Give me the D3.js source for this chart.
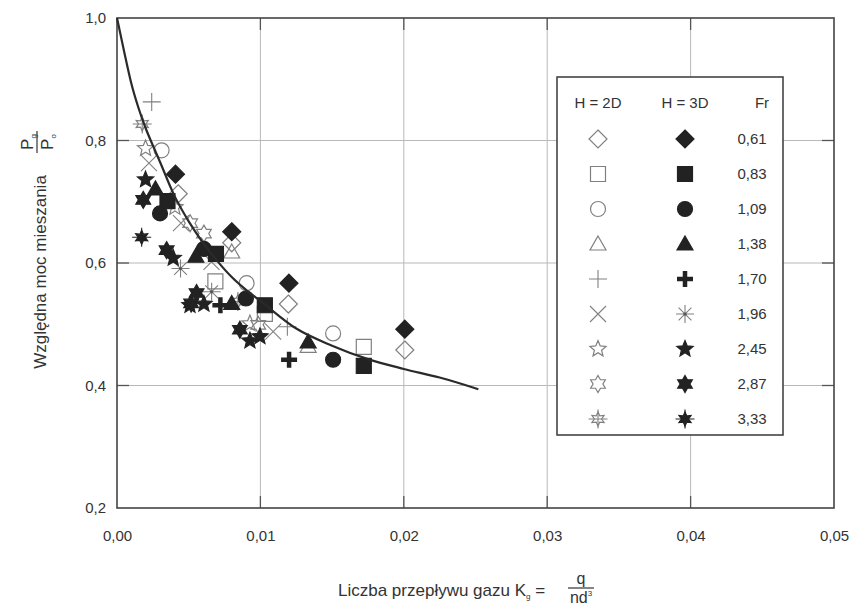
<!DOCTYPE html>
<html><head><meta charset="utf-8">
<script src="https://cdn.jsdelivr.net/npm/d3@7"></script>
<style>body{margin:0;background:#fff}svg{display:block}text{font-family:"Liberation Sans",Arial,sans-serif;fill:#333}</style>
</head><body>
<script>
// ---- data ----
const xTicks = [0, 0.01, 0.02, 0.03, 0.04, 0.05];
const yTicks = [0.2, 0.4, 0.6, 0.8, 1.0];
const frLabels = ["0,61","0,83","1,09","1,38","1,70","1,96","2,45","2,87","3,33"];
const symbolKinds = ["diamond","square","circle","triangle","plus","cross","star5","star6","starx"];

// fitted curve
const curveX = [0, 0.0005, 0.001, 0.0015, 0.002, 0.0025, 0.003, 0.004, 0.005, 0.006, 0.007, 0.008, 0.009, 0.010, 0.0125, 0.015, 0.0175, 0.020, 0.0225, 0.0252];
const curveY = [1.0, 0.945, 0.893, 0.853, 0.820, 0.792, 0.765, 0.710, 0.668, 0.633, 0.603, 0.577, 0.556, 0.538, 0.493, 0.465, 0.443, 0.427, 0.413, 0.394];

// H = 2D (open symbols)
const fr061_2D = [[0.00427,0.713],[0.0080,0.633],[0.01195,0.533],[0.02007,0.458]];
const fr083_2D = [[0.00686,0.570],[0.01031,0.517],[0.01721,0.463]];
const fr109_2D = [[0.00311,0.784],[0.00904,0.567],[0.01507,0.485]];
const fr138_2D = [[0.0080,0.618],[0.01333,0.464]];
const fr170_2D = [[0.00242,0.863],[0.01188,0.496]];
const fr196_2D = [[0.00223,0.763],[0.00446,0.665],[0.00659,0.602],[0.01089,0.488]];
const fr245_2D = [[0.00199,0.787],[0.00404,0.691],[0.00927,0.501]];
const fr287_2D = [[0.00510,0.665],[0.00606,0.648],[0.00985,0.499]];
const fr333_2D = [[0.00176,0.827],[0.00843,0.537]];
// H = 3D (filled symbols)
const fr061_3D = [[0.00408,0.745],[0.0080,0.651],[0.01199,0.567],[0.02007,0.492]];
const fr083_3D = [[0.00352,0.701],[0.0069,0.615],[0.01031,0.531],[0.01721,0.432]];
const fr109_3D = [[0.0030,0.681],[0.00606,0.623],[0.00899,0.542],[0.01507,0.442]];
const fr138_3D = [[0.00268,0.721],[0.0055,0.611],[0.0080,0.534],[0.01333,0.471]];
const fr170_3D = [[0.00721,0.531],[0.0120,0.442]];
const fr196_3D = [[0.00443,0.591],[0.0066,0.553]];
const fr245_3D = [[0.00199,0.736],[0.00392,0.608],[0.00509,0.531],[0.00606,0.533],[0.00927,0.473],[0.00997,0.480]];
const fr287_3D = [[0.00183,0.703],[0.00346,0.621],[0.00555,0.551],[0.00517,0.534],[0.00857,0.491]];
const fr333_3D = [[0.00172,0.642]];

const open2D = [fr061_2D,fr083_2D,fr109_2D,fr138_2D,fr170_2D,fr196_2D,fr245_2D,fr287_2D,fr333_2D];
const filled3D = [fr061_3D,fr083_3D,fr109_3D,fr138_3D,fr170_3D,fr196_3D,fr245_3D,fr287_3D,fr333_3D];

// ---- drawing ----
const W = 855, H = 610;
const svg = d3.select("body").append("svg").attr("width", W).attr("height", H);
svg.append("rect").attr("width", W).attr("height", H).attr("fill", "#fff");

const x = d3.scaleLinear().domain([0, 0.05]).range([117, 834]);
const y = d3.scaleLinear().domain([0.2, 1.0]).range([508, 18]);
const fmt = d => d3.format(".2f")(d).replace(".", ",");
const fmtY = d => d3.format(".1f")(d).replace(".", ",");

// grid
const grid = svg.append("g").attr("stroke", "#b8b8b8").attr("stroke-width", 1);
grid.selectAll("line.v").data(xTicks.slice(1, -1)).join("line").attr("class","v")
  .attr("x1", d => x(d)).attr("x2", d => x(d)).attr("y1", y(1)).attr("y2", y(0.2));
grid.selectAll("line.h").data(yTicks.slice(1, -1)).join("line").attr("class","h")
  .attr("x1", x(0)).attr("x2", x(0.05)).attr("y1", d => y(d)).attr("y2", d => y(d));

// dark inner ticks
const tk = svg.append("g").attr("stroke", "#555").attr("stroke-width", 1.3);
xTicks.slice(1, -1).forEach(d => {
  tk.append("line").attr("x1", x(d)).attr("x2", x(d)).attr("y1", y(1)).attr("y2", y(1) + 12);
  tk.append("line").attr("x1", x(d)).attr("x2", x(d)).attr("y1", y(0.2)).attr("y2", y(0.2) - 12);
});
yTicks.slice(1, -1).forEach(d => {
  tk.append("line").attr("x1", x(0)).attr("x2", x(0) + 12).attr("y1", y(d)).attr("y2", y(d));
  tk.append("line").attr("x1", x(0.05)).attr("x2", x(0.05) - 12).attr("y1", y(d)).attr("y2", y(d));
});

// frame
svg.append("rect").attr("x", x(0)).attr("y", y(1)).attr("width", x(0.05) - x(0)).attr("height", y(0.2) - y(1))
  .attr("fill", "none").attr("stroke", "#444").attr("stroke-width", 1.6);

// axes labels via d3 axes
const xAxis = svg.append("g").attr("transform", `translate(0,${y(0.2)})`)
  .call(d3.axisBottom(x).tickValues(xTicks).tickSize(0).tickPadding(22).tickFormat(fmt));
xAxis.select(".domain").remove();
xAxis.selectAll("text").attr("font-size", 15).attr("font-family", "Liberation Sans, Arial").attr("fill", "#333");

const yAxis = svg.append("g").attr("transform", `translate(${x(0)},0)`)
  .call(d3.axisLeft(y).tickValues(yTicks).tickSize(0).tickPadding(11).tickFormat(fmtY));
yAxis.select(".domain").remove();
yAxis.selectAll("text").attr("font-size", 15).attr("font-family", "Liberation Sans, Arial").attr("fill", "#333");

// symbols
function starPath(n, R, r) {
  let p = "";
  for (let i = 0; i < 2 * n; i++) {
    const a = -Math.PI / 2 + i * Math.PI / n;
    const rr = i % 2 === 0 ? R : r;
    p += (i === 0 ? "M" : "L") + (rr * Math.cos(a)).toFixed(2) + "," + (rr * Math.sin(a)).toFixed(2);
  }
  return p + "Z";
}
function drawSymbol(g, kind, filled) {
  const dark = "#222", grey = "#808080";
  const fillC = filled ? dark : "none";
  const strokeC = filled ? dark : grey;
  const sw = 1.2;
  const shape = d => g.append("path").attr("d", d).attr("fill", fillC).attr("stroke", strokeC).attr("stroke-width", sw);
  switch (kind) {
    case "diamond": shape("M0,-9L9,0L0,9L-9,0Z"); break;
    case "square": shape("M-7.5,-7.5H7.5V7.5H-7.5Z"); break;
    case "circle": g.append("circle").attr("r", 7.5).attr("fill", fillC).attr("stroke", strokeC).attr("stroke-width", sw); break;
    case "triangle": shape("M0,-8L8,6L-8,6Z"); break;
    case "plus":
      if (filled) g.append("path").attr("d", "M-8,0H8M0,-8V8").attr("stroke", dark).attr("stroke-width", 4.5);
      else g.append("path").attr("d", "M-9,0H9M0,-9V9").attr("stroke", grey).attr("stroke-width", 1.1);
      break;
    case "cross":
      if (filled) {
        g.append("path").attr("d", "M-9,0H9M0,-9V9M-6.4,-6.4L6.4,6.4M-6.4,6.4L6.4,-6.4").attr("stroke", grey).attr("stroke-width", 1.1);
        g.append("circle").attr("r", 1.6).attr("fill", "#555");
      } else g.append("path").attr("d", "M-8,-8L8,8M-8,8L8,-8").attr("stroke", grey).attr("stroke-width", 1.1);
      break;
    case "star5": shape(starPath(5, 8.5, 3.8)); break;
    case "star6": shape(starPath(6, 8.5, 4.9)); break;
    case "starx":
      g.append("path").attr("d", "M-9.5,0H9.5M0,-9.5V9.5").attr("stroke", strokeC).attr("stroke-width", 1.1);
      shape(starPath(6, 7, 3.6));
      break;
  }
}

// curve
const line = d3.line().x(d => x(d[0])).y(d => y(d[1])).curve(d3.curveMonotoneX);
const curvePts = curveX.map((v, i) => [v, curveY[i]]);

// points
const pts = svg.append("g");
open2D.forEach((arr, i) => arr.forEach(p => drawSymbol(pts.append("g").attr("transform", `translate(${x(p[0])},${y(p[1])})`), symbolKinds[i], false)));
filled3D.forEach((arr, i) => arr.forEach(p => drawSymbol(pts.append("g").attr("transform", `translate(${x(p[0])},${y(p[1])})`), symbolKinds[i], true)));

svg.append("path").datum(curvePts).attr("d", line).attr("fill", "none").attr("stroke", "#2a2a2a").attr("stroke-width", 2.2);

// legend
const lg = svg.append("g");
lg.append("rect").attr("x", 557).attr("y", 77).attr("width", 226).attr("height", 358)
  .attr("fill", "#fff").attr("stroke", "#444").attr("stroke-width", 1.6);
lg.append("text").attr("x", 598).attr("y", 108).attr("text-anchor", "middle").attr("font-size", 15).text("H = 2D");
lg.append("text").attr("x", 685).attr("y", 108).attr("text-anchor", "middle").attr("font-size", 15).text("H = 3D");
lg.append("text").attr("x", 762).attr("y", 108).attr("text-anchor", "middle").attr("font-size", 15).text("Fr");
frLabels.forEach((lab, i) => {
  const yy = 139 + i * 35;
  drawSymbol(lg.append("g").attr("transform", `translate(598,${yy})`), symbolKinds[i], false);
  drawSymbol(lg.append("g").attr("transform", `translate(685,${yy})`), symbolKinds[i], true);
  lg.append("text").attr("x", 752).attr("y", yy + 5).attr("text-anchor", "middle").attr("font-size", 15).text(lab);
});

// y title
svg.append("text").attr("transform", "translate(46,272) rotate(-90)").attr("text-anchor", "middle")
  .attr("font-size", 17).text("Względna moc mieszania");
const fr = svg.append("g").attr("transform", "translate(37,142) rotate(-90)");
fr.append("line").attr("x1", -11).attr("x2", 11).attr("y1", 0).attr("y2", 0).attr("stroke", "#333").attr("stroke-width", 1.2);
const num = fr.append("text").attr("x", 0).attr("y", -4).attr("text-anchor", "middle").attr("font-size", 17);
num.append("tspan").text("P");
num.append("tspan").attr("font-size", 8).attr("dy", 3).text("g");
const den = fr.append("text").attr("x", 0).attr("y", 16).attr("text-anchor", "middle").attr("font-size", 17);
den.append("tspan").text("P");
den.append("tspan").attr("font-size", 8).attr("dy", 3).text("o");

// x title
const xt = svg.append("text").attr("x", 338).attr("y", 596).attr("font-size", 17);
xt.append("tspan").text("Liczba przepływu gazu K");
xt.append("tspan").attr("font-size", 8).attr("dy", 3).text("g");
xt.append("tspan").attr("dy", -3).text(" =");
const xf = svg.append("g").attr("transform", "translate(581,588)");
xf.append("line").attr("x1", -13).attr("x2", 13).attr("stroke", "#333").attr("stroke-width", 1.2);
xf.append("text").attr("y", -4).attr("text-anchor", "middle").attr("font-size", 16).text("q");
const dd = xf.append("text").attr("y", 15).attr("text-anchor", "middle").attr("font-size", 16);
dd.append("tspan").text("nd");
dd.append("tspan").attr("font-size", 8).attr("dy", -7).text("3");
</script>
</body></html>
